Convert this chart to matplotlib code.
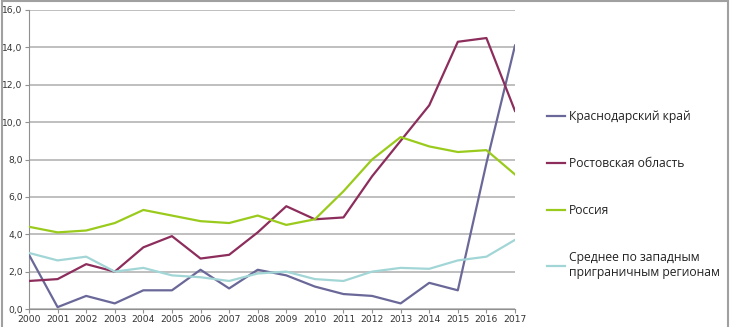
import numpy as np
import matplotlib.pyplot as plt
from matplotlib.patches import Rectangle

years = list(range(2000, 2018))

krasnodar = [2.9, 0.1, 0.7, 0.3, 1.0, 1.0, 2.1, 1.1, 2.1, 1.8, 1.2, 0.8, 0.7, 0.3, 1.4, 1.0, 7.8, 14.1]
rostov = [1.5, 1.6, 2.4, 2.0, 3.3, 3.9, 2.7, 2.9, 4.1, 5.5, 4.8, 4.9, 7.1, 9.0, 10.9, 14.3, 14.5, 10.6]
russia = [4.4, 4.1, 4.2, 4.6, 5.3, 5.0, 4.7, 4.6, 5.0, 4.5, 4.8, 6.3, 8.0, 9.2, 8.7, 8.4, 8.5, 7.2]
border_avg = [3.0, 2.6, 2.8, 2.0, 2.2, 1.8, 1.7, 1.5, 1.9, 2.0, 1.6, 1.5, 2.0, 2.2, 2.15, 2.6, 2.8, 3.7]

labels = ['Краснодарский край', 'Ростовская область', 'Россия',
          'Среднее по западным\nприграничным регионам']
colors = ['#6a6898', '#8c2d5c', '#9acb1c', '#a2d6d6']
yticks = np.arange(0, 17, 2)

fig = plt.figure(figsize=(7.3, 3.27), dpi=100)
ax = fig.add_axes([29/730, 1 - 309/327, (515-29)/730, (309-10)/327])

series = [krasnodar, rostov, russia, border_avg]
lines = []
for vals, c, lab in zip(series, colors, labels):
    ln, = ax.plot(years, vals, color=c, lw=1.6, label=lab, zorder=3)
    lines.append(ln)

ax.set_xlim(2000, 2017)
ax.set_ylim(0, 16)
ax.set_yticks(yticks)
ax.set_yticklabels([('%.1f' % v).replace('.', ',') for v in yticks])
ax.set_xticks(years)
ax.set_xticklabels([str(y) for y in years])
ax.grid(axis='y', color='#adadad', lw=1.1)
ax.set_axisbelow(True)
for s in ['top', 'right']:
    ax.spines[s].set_visible(False)
ax.spines['left'].set_color('#909090')
ax.spines['bottom'].set_color('#909090')
ax.tick_params(axis='both', labelsize=6.6, colors='#909090', labelcolor='#333333', length=3, pad=1.5)

leg = fig.legend(handles=lines, loc='upper left', bbox_to_anchor=(547/730, 1 - 110/327),
                 frameon=False, handlelength=1.5, handletextpad=0.3, labelspacing=2.8,
                 borderpad=0, borderaxespad=0,
                 prop={'family': 'Open Sans', 'size': 8.75})
for t in leg.get_texts():
    t.set_color('#222222')
    t.set_linespacing(1.15)

# outer frame of the picture
fig.patches.append(Rectangle((0.003, -0.01), 0.994, 1.006, transform=fig.transFigure,
                             fill=False, edgecolor='#a0a0a0', lw=1.5))

fig.savefig('out.png', dpi=100)
